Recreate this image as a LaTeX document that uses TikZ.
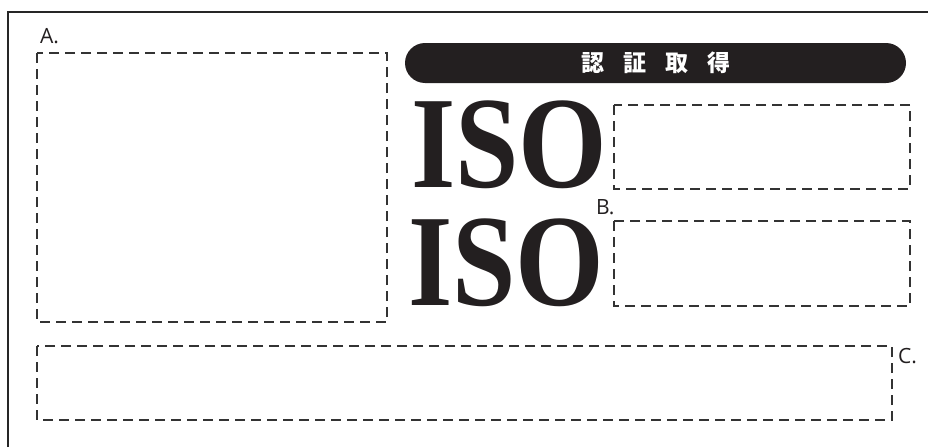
\documentclass[tikz,border=0pt]{standalone}
\usepackage{fontspec}
\setmainfont{Liberation Serif}
\setsansfont{Open Sans}
\newfontfamily\cjk{Noto Sans CJK JP}
\usetikzlibrary{calc}
\definecolor{inkblack}{HTML}{231F20}
\tikzset{
	blank/.style={draw=black!80, line width=1.1pt, dash pattern=on 10pt off 6pt},
	tag/.style={font=\sffamily\fontsize{21}{21}\selectfont, inner sep=0pt, anchor=base west, text=inkblack},
	isomark/.style={font=\bfseries\fontsize{131}{131}\selectfont, inner sep=0pt, anchor=base west, xscale=0.87, text=inkblack}
}

\begin{document}
\begin{tikzpicture}[x=1pt, y=-1pt]
			%%%%% START %%%%%
			\useasboundingbox (0, 0) rectangle (928, 447);
			
			% outer frame
			\draw[line width=1.5pt, color=black!85] (8, 447) -- (8, 12) -- (928, 12);
			
			% heading bar
			\fill[inkblack, rounded corners=20pt] (405, 43) rectangle (906, 83);
			\node[text=white, inner sep=0pt] (seal) at (656, 63)
				{\cjk\bfseries\fontsize{23}{23}\selectfont 認\hspace{19pt}証\hspace{19pt}取\hspace{19pt}得};
			
			% ISO marks
			\node[isomark] (isoA) at (411, 187) {ISO};
			\node[isomark] (isoB) at (408, 305) {ISO};
			
			% blanks
			\draw[blank] (37, 53) rectangle (387, 322);
			\draw[blank] (614, 105) rectangle (910, 189);
			\draw[blank] (614, 221) rectangle (910, 306);
			\draw[blank] (37, 346) rectangle (892, 420);
			
			% tags
			\node[tag] (tagA) at (40, 43) {A.};
			\node[tag] (tagB) at (596, 214) {B.};
			\node[tag] (tagC) at (898, 363) {C.};
			
			%%%%% END %%%%%
		\end{tikzpicture}
\end{document}
